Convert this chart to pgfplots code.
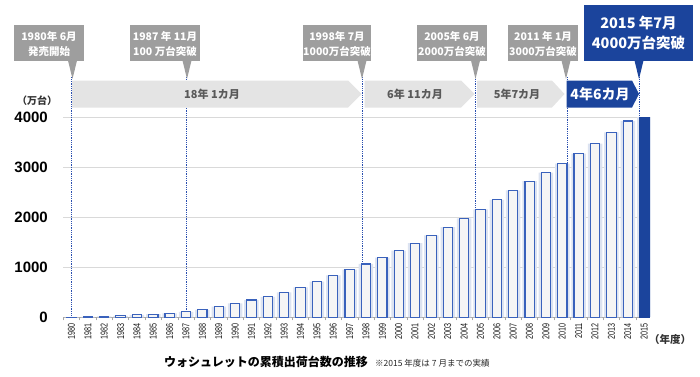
\documentclass[border=0pt]{standalone}
\usepackage{pgfplots}
\usepackage{pgfplotstable}
\pgfplotsset{compat=1.18}
\usepackage{fontspec}
\setmainfont{Liberation Sans}
\newfontfamily\narrowfont{Liberation Sans}[FakeStretch=0.72]
\newfontfamily\cjk{Noto Sans CJK JP}
\definecolor{barblue}{HTML}{3A62BC}
\definecolor{darkblue}{HTML}{1B449C}
\definecolor{calloutgray}{HTML}{9E9E9E}
\definecolor{bandgray}{HTML}{E4E4E4}
\definecolor{shadowblue}{HTML}{DCE3F1}
\definecolor{dotblue}{HTML}{2A4FB0}

\pgfplotstableread{
year value
1980 3
1981 8
1982 20
1983 30
1984 48
1985 62
1986 80
1987 110
1988 150
1989 215
1990 280
1991 345
1992 410
1993 500
1994 600
1995 715
1996 835
1997 950
1998 1065
1999 1190
2000 1330
2001 1480
2002 1635
2003 1800
2004 1975
2005 2155
2006 2345
2007 2535
2008 2720
2009 2890
2010 3070
2011 3270
2012 3470
2013 3695
2014 3920
}\cumdata

\pgfplotstableread{
year value
2015 4000
}\lastyear

\begin{document}
\begin{tikzpicture}[x=1pt,y=1pt]
\path[use as bounding box] (0,0) rectangle (700,376);
\begin{axis}[
  at={(63pt,58.7pt)}, anchor=south west,
  scale only axis, width=587pt, height=200.3pt,
  xmin=1979.48, xmax=2015.36, ymin=0, ymax=4000,
  clip=false,
  axis lines*=left,
  y axis line style={draw=none},
  x axis line style={draw=black!35, line width=0.8pt},
  ytick={0,1000,2000,3000,4000},
  ymajorgrids, grid style={black!15, line width=0.8pt},
  major tick length=0pt,
  xtick={1980,...,2015},
  minor xtick={1979.5,1980.5,...,2015.5},
  minor tick length=3pt,
  minor x tick style={draw=black!35, line width=0.6pt},
  tick align=outside,
  /pgf/number format/assume math mode=true,
  /pgf/number format/1000 sep={},
  xticklabel shift=6pt,
  xticklabel style={rotate=90, anchor=east, inner sep=0pt, font=\narrowfont\fontsize{10}{10}\selectfont, text=black!90},
  yticklabel style={font=\fontsize{15}{15}\selectfont\bfseries, text=black, inner sep=0pt, xshift=-15pt},
]
\addplot[ybar, bar width=14.5pt, bar shift=0pt, fill=shadowblue, draw=none] table[x=year,y=value]{\cumdata};
\addplot[ybar, bar width=14.5pt, bar shift=0pt, fill=shadowblue, draw=none] table[x=year,y=value]{\lastyear};
\addplot[draw=dotblue, densely dotted, line width=0.8pt, no markers] coordinates {(1980,0) (1980,4790)};
\addplot[draw=dotblue, densely dotted, line width=0.8pt, no markers] coordinates {(1987,0) (1987,4790)};
\addplot[draw=dotblue, densely dotted, line width=0.8pt, no markers] coordinates {(1997.8,0) (1997.8,4790)};
\addplot[draw=dotblue, densely dotted, line width=0.8pt, no markers] coordinates {(2004.7,0) (2004.7,4790)};
\addplot[draw=dotblue, densely dotted, line width=0.8pt, no markers] coordinates {(2010.3,0) (2010.3,4790)};
\addplot[draw=dotblue, densely dotted, line width=0.8pt, no markers] coordinates {(2014.7,0) (2014.7,4790)};
\addplot[ybar, bar width=9.3pt, bar shift=0pt, fill=black!4, draw=barblue, line width=1.1pt] table[x=year,y=value]{\cumdata};
\addplot[ybar, bar width=10pt, bar shift=0pt, fill=darkblue, draw=darkblue] table[x=year,y=value]{\lastyear};
\end{axis}

\begin{scope}[shift={(0,376)}, yscale=-1]
% band
\fill[bandgray] (72,80.5) -- (348,80.5) -- (361.5,94) -- (348,107.5) -- (72,107.5) -- cycle;
\fill[bandgray] (364.5,80.5) -- (461,80.5) -- (474.5,94) -- (461,107.5) -- (364.5,107.5) -- cycle;
\fill[bandgray] (477,80.5) -- (552,80.5) -- (564.5,94) -- (552,107.5) -- (477,107.5) -- cycle;
\fill[darkblue] (566.5,80.5) -- (632,80.5) -- (639,94) -- (632,107.5) -- (566.5,107.5) -- cycle;
\node[text=black!65, font=\cjk\fontsize{11}{11}\selectfont\bfseries] at (212,94) {18年 1カ月};
\node[text=black!65, font=\cjk\fontsize{11}{11}\selectfont\bfseries] at (415,94) {6年 11カ月};
\node[text=black!65, font=\cjk\fontsize{11}{11}\selectfont\bfseries] at (517,94) {5年7カ月};
\node[text=white, font=\cjk\fontsize{14}{14}\selectfont\bfseries] at (600,94) {4年6カ月};
% callouts
\foreach \xa/\xb/\xp/\la/\lb in {
  14/84/72.5/{1980年 6月}/{発売開始},
  130/200/187/{1987 年 11月}/{100 万台突破},
  303/371/362/{1998年 7月}/{1000万台突破},
  417/487/475.5/{2005年 6月}/{2000万台突破},
  508/578/566/{2011 年 1月}/{3000万台突破}} {
  \fill[calloutgray] (\xa,25) rectangle (\xb,61);
  \fill[calloutgray] (\xp-4.5,60.5) -- (\xp+4.5,60.5) -- (\xp,79) -- cycle;
  \node[text=white, font=\cjk\fontsize{10.5}{10.5}\selectfont\bfseries] at ({(\xa+\xb)/2},36) {\la};
  \node[text=white, font=\cjk\fontsize{10.5}{10.5}\selectfont\bfseries] at ({(\xa+\xb)/2},51.5) {\lb};
}
\fill[darkblue] (584,5) rectangle (693,61);
\fill[darkblue] (634.5,60.5) -- (643.5,60.5) -- (639,79) -- cycle;
\node[text=white, font=\cjk\fontsize{14.5}{14.5}\selectfont\bfseries] at (638.5,23) {2015 年7月};
\node[text=white, font=\cjk\fontsize{14.5}{14.5}\selectfont\bfseries] at (638.5,43) {4000万台突破};
% labels
\node[text=black!80, font=\cjk\fontsize{10}{10}\selectfont\bfseries] at (37,101) {（万台）};
\node[text=black!80, font=\cjk\fontsize{10.5}{10.5}\selectfont\bfseries] at (670,340) {（年度）};
\node[anchor=base east, inner sep=0pt, text=black, font=\cjk\fontsize{12}{12}\selectfont\bfseries] at (368,366) {ウォシュレットの累積出荷台数の推移};
\node[anchor=base west, inner sep=0pt, text=black!85, font=\cjk\fontsize{8.5}{8.5}\selectfont] at (375,366) {※2015 年度は 7 月までの実績};
\end{scope}
\end{tikzpicture}
\end{document}
